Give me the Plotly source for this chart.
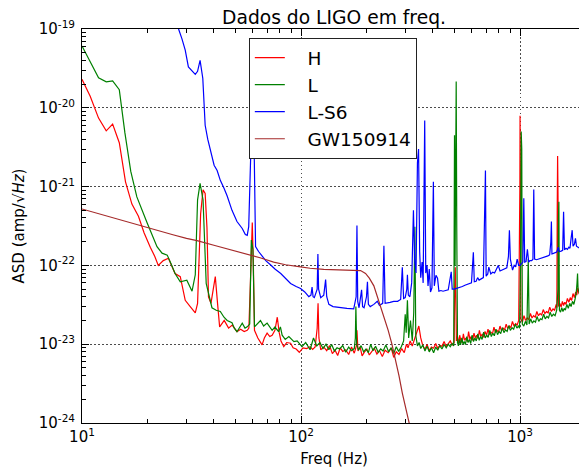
import plotly.graph_objects as go

# ---------------- data ----------------
h_freq = [10, 10.9, 11.9, 12.9, 13.8, 14.8, 15.8, 16.9, 18.1, 19.2,
          20.5, 21.5, 22.3, 23.5, 24.8, 25.8, 26.6, 28.1, 29.6, 31.2,
          32.9, 33.7, 34.8, 35.7, 36.5, 37.2, 37.8, 38.8, 39.7, 40.6,
          41.5, 42.5, 44.6, 46.7, 48.5, 51, 53, 55, 56.8, 57.8,
          59.2, 59.9, 60.6, 61.3, 63.5, 66.4, 68, 70, 72, 73.8,
          76, 77.9, 79.5, 81, 83.4, 86, 89.6, 92, 95, 98.2,
          102, 106, 110, 113, 116, 118.5, 119.6, 120.7, 123, 127,
          131, 135, 139, 143, 147, 151, 155, 160, 165, 170,
          175, 179, 180, 182, 186, 190, 195, 200, 205, 210,
          216, 222, 228, 235, 242, 250, 258, 265, 272, 280,
          288, 296, 303, 308, 315, 322, 330, 338, 345, 352,
          360, 368, 376, 385, 394, 403, 412, 421, 430, 440,
          450, 460, 470, 480, 490, 500, 503, 506, 509, 512,
          518, 524, 530, 537, 544, 551, 558, 566, 574, 582,
          590, 598, 607, 616, 625, 634, 643, 652, 662, 672,
          682, 692, 703, 714, 725, 736, 748, 760, 772, 784,
          797, 810, 823, 836, 850, 864, 878, 893, 908, 923,
          938, 954, 970, 986, 998, 1000, 1003, 1008, 1025, 1042,
          1060, 1078, 1096, 1115, 1134, 1153, 1173, 1193, 1213, 1234,
          1255, 1276, 1298, 1320, 1343, 1366, 1390, 1414, 1438, 1462,
          1472, 1478, 1484, 1490, 1500, 1520, 1540, 1560, 1580, 1600,
          1620, 1645, 1670, 1695, 1720, 1745, 1770, 1795, 1815, 1835,
          1855, 1875, 1895, 1915, 1930, 1943, 1955, 1975, 2000]
h_asd = [2.3e-20, 1.4e-20, 7.4e-21, 5.1e-21, 6.2e-21, 3.6e-21, 1.15e-21, 6.0e-22, 4.2e-22, 2.6e-22,
         1.7e-22, 1.3e-22, 1.0e-22, 1.15e-22, 1.23e-22, 9.5e-23, 7.9e-23, 7.2e-23, 3.6e-23, 3.0e-23,
         2.5e-23, 3.3e-23, 4.5e-22, 9.1e-22, 8.2e-22, 3.0e-22, 4.0e-23, 3.3e-23, 5.0e-23, 7.2e-23,
         3.5e-23, 1.66e-23, 2.0e-23, 1.6e-23, 1.75e-23, 1.44e-23, 1.55e-23, 1.45e-23, 1.5e-23, 1.6e-23,
         1.2e-22, 3.5e-22, 1.0e-22, 1.5e-23, 1.2e-23, 9.8e-24, 1.2e-23, 1.38e-23, 1.25e-23, 1.3e-23,
         1.5e-23, 2.2e-23, 1.4e-23, 1.1e-23, 9.3e-24, 1.05e-23, 1.03e-23, 9.0e-24, 8.7e-24, 7.9e-24,
         9.0e-24, 8.8e-24, 9.3e-24, 8.6e-24, 9.2e-24, 1.6e-23, 3.3e-23, 1.2e-23, 8.5e-24, 9.2e-24,
         8.3e-24, 9.6e-24, 7.6e-24, 8.4e-24, 7.2e-24, 9.0e-24, 8.1e-24, 8.5e-24, 7.4e-24, 9.2e-24,
         7.7e-24, 9.5e-24, 1.5e-23, 8.2e-24, 9.3e-24, 7.1e-24, 8.0e-24, 8.6e-24, 7.3e-24, 7.9e-24,
         8.9e-24, 7.5e-24, 8.3e-24, 7.0e-24, 8.4e-24, 7.8e-24, 9.0e-24, 6.8e-24, 8.0e-24, 7.4e-24,
         8.8e-24, 7.8e-24, 1.0e-23, 9.0e-24, 1.1e-23, 9.5e-24, 1.2e-23, 1.4e-23, 1.7e-23, 1.2e-23,
         9.5e-24, 8.6e-24, 9.9e-24, 8.3e-24, 9.2e-24, 8.9e-24, 1.02e-23, 8.8e-24, 9.7e-24, 9.4e-24,
         1.08e-23, 9.3e-24, 1.0e-23, 1.1e-23, 9.8e-24, 1.05e-23, 5.0e-23, 9.5e-23, 4.0e-23, 1.1e-23,
         1.25e-23, 1.0e-23, 1.3e-23, 1.1e-23, 1.05e-23, 1.35e-23, 1.12e-23, 1.2e-23, 1.08e-23, 1.45e-23,
         1.15e-23, 1.25e-23, 1.12e-23, 1.38e-23, 1.2e-23, 1.3e-23, 1.18e-23, 1.5e-23, 1.25e-23, 1.35e-23,
         1.22e-23, 1.45e-23, 1.3e-23, 1.55e-23, 1.32e-23, 1.42e-23, 1.35e-23, 1.65e-23, 1.4e-23, 1.5e-23,
         1.42e-23, 1.7e-23, 1.48e-23, 1.6e-23, 1.52e-23, 1.8e-23, 1.58e-23, 1.7e-23, 1.62e-23, 1.95e-23,
         1.7e-23, 1.82e-23, 1.75e-23, 2.0e-23, 1.0e-21, 7.9e-21, 2.0e-21, 2.1e-23, 1.9e-23, 2.3e-23,
         2.0e-23, 2.15e-23, 2.05e-23, 2.45e-23, 2.15e-23, 2.3e-23, 2.2e-23, 2.6e-23, 2.3e-23, 2.45e-23,
         2.35e-23, 2.75e-23, 2.45e-23, 2.6e-23, 2.5e-23, 2.95e-23, 2.6e-23, 2.8e-23, 2.7e-23, 3.2e-23,
         2.9e-23, 5.0e-22, 2.45e-21, 8.0e-22, 3.0e-23, 3.3e-23, 2.95e-23, 3.5e-23, 3.1e-23, 3.4e-23,
         3.2e-23, 3.8e-23, 3.4e-23, 3.9e-23, 3.6e-23, 4.4e-23, 3.9e-23, 4.6e-23, 4.2e-23, 5.2e-23,
         4.4e-23, 4.9e-23, 5.5e-23, 1.0e-22, 2.5e-22, 7.4e-22, 2.0e-22, 3.5e-23, 3.0e-23]

l_freq = [10, 10.9, 11.9, 12.9, 13.8, 14.8, 15.7, 16.7, 17.8, 19.8,
          21, 22, 23.2, 24.5, 25.5, 26.6, 28.1, 30.1, 31.8, 32.9,
          33.7, 34.6, 35.7, 36.9, 39.2, 41, 42.8, 44.5, 46, 48.4,
          49.6, 51, 53.9, 55.5, 56.8, 58.3, 59.3, 60.3, 61.3, 63,
          65.3, 67.5, 70, 73.8, 76, 79, 80.5, 82, 84.7, 88,
          92.8, 96, 101, 105, 110, 114, 118, 122, 126, 130,
          134, 138, 142, 146, 150, 155, 160, 165, 170, 175,
          177, 178, 179.5, 183, 188, 193, 198, 203, 208, 213,
          219, 225, 231, 237, 244, 251, 258, 265, 272, 279,
          287, 294, 299, 302, 306, 310, 316, 322, 327, 331,
          334, 340, 346, 352, 360, 368, 376, 385, 394, 403,
          412, 421, 430, 440, 450, 460, 470, 480, 490, 498,
          502, 505, 508, 511, 514, 518, 523, 529, 535, 542,
          549, 556, 563, 571, 579, 587, 595, 604, 613, 622,
          631, 641, 651, 661, 671, 682, 693, 704, 715, 727,
          739, 751, 763, 776, 789, 802, 816, 830, 844, 858,
          873, 888, 903, 919, 935, 951, 967, 983, 995, 1005,
          1012, 1018, 1024, 1040, 1058, 1075, 1090, 1100, 1118, 1137,
          1156, 1176, 1196, 1217, 1238, 1259, 1281, 1303, 1326, 1349,
          1372, 1396, 1420, 1445, 1470, 1490, 1497, 1504, 1512, 1530,
          1550, 1570, 1590, 1610, 1635, 1660, 1685, 1710, 1735, 1760,
          1785, 1805, 1820, 1830, 1840, 1860, 1880, 1905, 1930, 1960, 2000]
l_asd = [6.1e-20, 3.85e-20, 2.4e-20, 2.14e-20, 2.2e-20, 1.7e-20, 4.8e-21, 1.56e-21, 7.4e-22, 3.5e-22,
         2.3e-22, 1.73e-22, 1.43e-22, 1.35e-22, 1.05e-22, 7.9e-23, 6.2e-23, 6.5e-23, 4.7e-23, 7.6e-23,
         6.8e-22, 1.1e-21, 6.8e-22, 5.9e-23, 2.9e-23, 2.7e-23, 2.6e-23, 2.2e-23, 2.0e-23, 1.87e-23,
         1.6e-23, 1.44e-23, 1.85e-23, 1.6e-23, 1.66e-23, 1.8e-23, 2.1e-22, 1.6e-22, 1.66e-23, 1.8e-23,
         2.0e-23, 1.7e-23, 1.85e-23, 1.5e-23, 1.65e-23, 1.44e-23, 1.66e-23, 1.3e-23, 1.15e-23, 1.25e-23,
         1.08e-23, 1.1e-23, 9.3e-24, 1.05e-23, 8.5e-24, 1.2e-23, 9.5e-24, 1.05e-23, 8.8e-24, 1.0e-23,
         8.5e-24, 9.9e-24, 8.2e-24, 9.0e-24, 8.7e-24, 9.6e-24, 7.9e-24, 9.2e-24, 8.3e-24, 8.8e-24,
         1.2e-23, 3.0e-23, 1.0e-23, 8.4e-24, 9.6e-24, 8.0e-24, 8.7e-24, 7.8e-24, 1.0e-23, 8.3e-24,
         9.4e-24, 7.9e-24, 8.7e-24, 8.2e-24, 9.8e-24, 8.0e-24, 9.0e-24, 7.6e-24, 9.3e-24, 8.1e-24,
         9.3e-24, 1.1e-23, 2.4e-23, 1.4e-23, 3.6e-23, 1.2e-23, 2.0e-23, 1.1e-23, 2.5e-23, 3.1e-22,
         1.3e-23, 9.5e-24, 1.05e-23, 8.8e-24, 9.8e-24, 8.2e-24, 9.4e-24, 8.0e-24, 9.0e-24, 7.8e-24,
         9.2e-24, 8.4e-24, 9.6e-24, 8.7e-24, 9.9e-24, 9.0e-24, 1.0e-23, 9.3e-24, 1.02e-23, 9.5e-24,
         4.5e-21, 1.0e-22, 6.0e-21, 2.15e-20, 3.0e-22, 1.05e-23, 9.5e-24, 1.15e-23, 9.8e-24, 1.2e-23,
         1.0e-23, 1.08e-23, 9.9e-24, 1.25e-23, 1.05e-23, 1.15e-23, 1.02e-23, 1.3e-23, 1.08e-23, 1.2e-23,
         1.1e-23, 1.35e-23, 1.12e-23, 1.25e-23, 1.15e-23, 1.42e-23, 1.2e-23, 1.3e-23, 1.22e-23, 1.5e-23,
         1.25e-23, 1.38e-23, 1.28e-23, 1.55e-23, 1.32e-23, 1.45e-23, 1.36e-23, 1.62e-23, 1.4e-23, 1.52e-23,
         1.45e-23, 1.72e-23, 1.5e-23, 1.62e-23, 1.55e-23, 1.8e-23, 1.6e-23, 1.7e-23, 1.6e-23, 1.0e-22,
         5.0e-21, 3.0e-21, 1.8e-23, 1.7e-23, 1.95e-23, 1.75e-23, 1.2e-22, 1.8e-23, 2.1e-23, 1.85e-23,
         1.98e-23, 1.9e-23, 2.25e-23, 1.95e-23, 2.1e-23, 2.05e-23, 2.4e-23, 2.1e-23, 2.25e-23, 2.15e-23,
         2.55e-23, 2.25e-23, 2.4e-23, 2.3e-23, 2.7e-23, 5.0e-23, 4.0e-22, 6.4e-22, 2.7e-23, 2.55e-23,
         2.9e-23, 2.6e-23, 2.85e-23, 2.7e-23, 3.2e-23, 2.85e-23, 3.3e-23, 3.0e-23, 3.5e-23, 3.2e-23,
         3.8e-23, 4.5e-23, 6.0e-23, 7.9e-23, 5.0e-23, 4.6e-23, 3.8e-23, 3.4e-23, 3.0e-23, 3.1e-23, 2.7e-23]

s6_freq = [27, 27.6, 28.6, 29.6, 30.6, 31.8, 32.9, 33.7, 34.6, 35.6, 36.5, 37.5, 38.5, 40.1, 41.4,
           42.8, 44.5, 46, 48.4, 51, 53.9, 55.7, 56.8, 57.7, 58.9, 59.8, 60.5, 61.2, 62, 64, 66.4,
           69, 72.5, 76, 80.8, 85, 89.6, 95, 99.5, 104, 108.5, 111, 112.3, 113.5, 115, 118.5,
           119.4, 120.3, 123, 127, 129.5, 131, 134, 140, 151, 162, 174, 178.5, 180, 181.5, 184,
           189, 191, 194, 199, 201, 203, 207, 215, 223, 228, 236, 239, 242, 255, 265, 276, 285,
           290, 294, 299, 304, 306, 309, 314, 320, 326, 330, 335, 340, 344, 348, 352, 357, 361,
           367, 371, 376, 380, 385, 390, 396, 402, 406, 413, 420, 426, 435, 445, 455, 470, 485,
           490, 500, 515, 530, 545, 560, 580, 600, 612, 618, 630, 640, 650, 665, 680, 695, 700,
           712, 720, 735, 750, 765, 780, 795, 810, 830, 850, 870, 885, 894, 903, 914, 924, 940,
           955, 970, 985, 1000, 1015, 1030, 1040, 1050, 1065, 1080, 1095, 1110, 1130, 1145, 1155,
           1165, 1190, 1215, 1240, 1265, 1290, 1315, 1340, 1365, 1382, 1390, 1398, 1420, 1445,
           1470, 1495, 1510, 1540, 1565, 1580, 1595, 1620, 1645, 1670, 1690, 1710, 1730, 1745,
           1770, 1790, 1810, 1840, 1870, 1900, 1930, 1940, 1965, 2000]
s6_asd = [1.15e-19, 1.0e-19, 7.5e-20, 5.4e-20, 3.3e-20, 2.9e-20, 2.66e-20, 2.9e-20, 4.0e-20,
          2.37e-20, 6.0e-21, 4.0e-21, 3.0e-21, 1.87e-21, 1.6e-21, 1.2e-21, 9.5e-22, 7.6e-22,
          5.0e-22, 3.6e-22, 2.94e-22, 2.47e-22, 2.4e-22, 3.1e-22, 2.4e-21, 2.0e-20, 2.0e-20,
          2.5e-21, 1.73e-22, 1.5e-22, 1.3e-22, 1.15e-22, 1.02e-22, 9.0e-23, 7.9e-23, 6.8e-23,
          5.9e-23, 5.4e-23, 5.1e-23, 4.6e-23, 4.0e-23, 4.2e-23, 5.3e-23, 4.0e-23, 3.9e-23, 5.0e-23,
          1.4e-22, 5.0e-23, 3.9e-23, 4.2e-23, 6.6e-23, 4.0e-23, 3.2e-23, 3.0e-23, 2.9e-23, 2.85e-23,
          2.8e-23, 4.0e-23, 3.2e-22, 3.5e-23, 2.9e-23, 4.9e-23, 3.0e-23, 2.9e-23, 4.0e-23, 6.2e-23,
          3.2e-23, 3.0e-23, 3.2e-23, 3.5e-23, 3.1e-23, 3.3e-23, 1.77e-22, 3.3e-23, 3.4e-23, 3.5e-23,
          3.5e-23, 3.7e-23, 9.5e-23, 3.8e-23, 3.9e-23, 5.0e-23, 7.6e-23, 4.2e-23, 4.0e-23, 6.0e-23,
          5.0e-22, 1.2e-22, 8.0e-23, 2.0e-21, 3.0e-21, 1.5e-22, 7.0e-23, 1.1e-22, 6.0e-23, 6.9e-21,
          8.0e-23, 1.0e-22, 5.5e-23, 9.0e-23, 4.6e-23, 5.2e-23, 1.15e-21, 5.5e-23, 7.5e-23, 6.9e-23,
          4.7e-23, 4.8e-23, 4.7e-23, 4.8e-23, 4.9e-23, 8.3e-23, 5.0e-23, 5.0e-23, 5.1e-23, 5.3e-23,
          5.4e-23, 5.6e-23, 5.8e-23, 6.0e-23, 1.47e-22, 6.2e-23, 6.3e-23, 7.0e-23, 6.5e-23, 6.8e-23,
          7.0e-23, 1.6e-21, 7.3e-23, 7.8e-23, 9.5e-23, 7.8e-23, 8.2e-23, 8.0e-23, 9.0e-23, 1.0e-22,
          8.5e-23, 8.8e-23, 9.0e-23, 9.3e-23, 1.3e-22, 2.8e-22, 1.2e-22, 9.6e-23, 8.7e-23, 1.0e-22,
          9.6e-23, 1.2e-22, 1.0e-22, 1.0e-22, 1.05e-22, 1.1e-22, 7.1e-22, 1.1e-22, 1.12e-22,
          1.6e-22, 1.1e-22, 1.15e-22, 1.15e-22, 1.2e-22, 9.2e-22, 1.2e-22, 1.18e-22, 1.2e-22,
          1.22e-22, 1.25e-22, 1.28e-22, 1.3e-22, 1.32e-22, 1.36e-22, 2.0e-22, 3.6e-22, 1.4e-22,
          1.42e-22, 1.45e-22, 1.48e-22, 1.7e-22, 1.5e-22, 1.52e-22, 1.55e-22, 4.8e-22, 1.58e-22,
          1.65e-22, 1.6e-22, 1.7e-22, 1.65e-22, 2.2e-22, 2.8e-22, 1.75e-22, 1.85e-22, 2.2e-22,
          1.75e-22, 1.7e-22, 1.65e-22, 1.6e-22, 6.0e-22, 1.7e-22, 1.4e-22, 1.2e-22]

gw_freq = [10, 12, 14, 16.5, 18.4, 22, 26, 30, 33.5, 40, 47, 56.8, 65, 75, 85, 99.5, 110, 127,
           150, 170, 187, 197, 205, 215, 222, 230, 240, 250, 260, 270, 280, 290, 300, 311, 320, 330]
gw_asd = [5.2e-22, 4.5e-22, 4.0e-22, 3.5e-22, 3.2e-22, 2.75e-22, 2.45e-22, 2.2e-22, 2.06e-22,
          1.8e-22, 1.6e-22, 1.4e-22, 1.25e-22, 1.1e-22, 1.02e-22, 9.6e-23, 9.2e-23, 8.9e-23,
          8.8e-23, 8.75e-23, 8.6e-23, 7.9e-23, 6.9e-23, 5.5e-23, 4.2e-23, 3.1e-23, 2.2e-23,
          1.5e-23, 1.0e-23, 6.5e-24, 4.0e-24, 2.4e-24, 1.55e-24, 1.0e-24, 7.0e-25, 5.0e-25]

for _f, _a in [(h_freq, h_asd), (l_freq, l_asd), (s6_freq, s6_asd), (gw_freq, gw_asd)]:
    assert len(_f) == len(_a), (len(_f), len(_a))

series_names = ["H", "L", "L-S6", "GW150914"]
series_colors = ["#ff0000", "#008000", "#0000ff", "#a52a2a"]

x_tick_vals = [10, 100, 1000]
x_tick_text = ["10<sup>1</sup>", "10<sup>2</sup>", "10<sup>3</sup>"]
y_tick_vals = [1e-24, 1e-23, 1e-22, 1e-21, 1e-20, 1e-19]
y_tick_text = ["10<sup>-24</sup>", "10<sup>-23</sup>", "10<sup>-22</sup>",
               "10<sup>-21</sup>", "10<sup>-20</sup>", "10<sup>-19</sup>"]

# ---------------- figure ----------------
FONT = "DejaVu Sans"
fig = go.Figure()
for name, color, xs, ys in zip(series_names, series_colors,
                               [h_freq, l_freq, s6_freq, gw_freq],
                               [h_asd, l_asd, s6_asd, gw_asd]):
    fig.add_trace(go.Scatter(x=xs, y=ys, mode="lines", name="\u00a0\u00a0\u00a0" + name,
                             line=dict(color=color, width=1.2)))

x_minor = [m * 10 ** e for e in range(1, 4) for m in range(2, 10) if m * 10 ** e <= 2000]
y_minor = [m * 10.0 ** e for e in range(-24, -19) for m in range(2, 10)]

axis_common = dict(type="log", showline=True, linecolor="black", linewidth=1, mirror="ticks",
                   ticks="inside", ticklen=7, tickcolor="black", tickwidth=1, automargin=False,
                   showgrid=True, gridcolor="rgba(0,0,0,0.7)", griddash="1.5px,2.5px", gridwidth=1,
                   zeroline=False, tickfont=dict(family=FONT, size=15, color="black"))

fig.update_xaxes(range=[1, 3.30103], tickmode="array", tickvals=x_tick_vals, ticktext=x_tick_text,
                 minor=dict(tickmode="array", tickvals=x_minor, ticks="inside", ticklen=4,
                            tickcolor="black", showgrid=False),
                 title=dict(text="Freq (Hz)", font=dict(family=FONT, size=15, color="black"),
                            standoff=8),
                 **axis_common)
fig.update_yaxes(range=[-24, -19], tickmode="array", tickvals=y_tick_vals, ticktext=y_tick_text,
                 minor=dict(tickmode="array", tickvals=y_minor, ticks="inside", ticklen=4,
                            tickcolor="black", showgrid=False),
                 title=dict(text="ASD (amp/√<i>Hz</i>)", font=dict(family=FONT, size=15, color="black"),
                            standoff=10),
                 ticklabelstandoff=3,
                 **axis_common)

# the page body has an 8px margin, so the figure is sized/placed to compensate
fig.update_layout(
    width=579, height=461,
    margin=dict(l=74, r=1, t=21, b=46),
    paper_bgcolor="white", plot_bgcolor="white",
    font=dict(family=FONT, color="black"),
    title=dict(text="Dados do LIGO em freq.", x=0.5, xref="paper", xanchor="center",
               y=1 - 9 / 461, yref="container", yanchor="middle",
               font=dict(family=FONT, size=18.7, color="black"), automargin=False),
    legend=dict(x=0.331, y=0.977, xanchor="left", yanchor="top", bgcolor="white",
                bordercolor="#222", borderwidth=1, font=dict(family=FONT, size=18.5, color="black"),
                itemwidth=30),
    showlegend=True,
)

fig.write_html("out.html")
